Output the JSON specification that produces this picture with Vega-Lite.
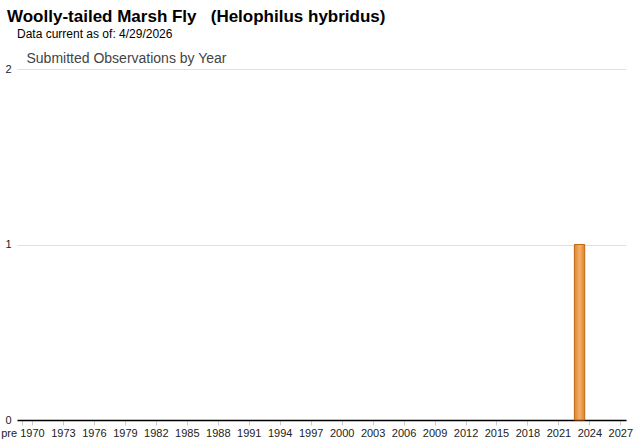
{
  "$schema": "https://vega.github.io/schema/vega-lite/v6.json",
  "width": 609,
  "height": 351,
  "autosize": {"type": "none"},
  "padding": {"left": 17, "top": 69, "right": 14, "bottom": 22},
  "background": "white",
  "title": {
    "text": "Woolly-tailed Marsh Fly\u00a0\u00a0\u00a0(Helophilus hybridus)",
    "subtitle": "\u200b\u00a0\u00a0\u00a0Data current as of: 4/29/2026",
    "anchor": "start",
    "frame": "group",
    "orient": "top",
    "dx": -10,
    "offset": 10,
    "font": "Liberation Sans",
    "fontSize": 17,
    "fontWeight": "bold",
    "color": "#000000",
    "subtitleFont": "Liberation Sans",
    "subtitleFontSize": 12,
    "subtitleColor": "#000000",
    "subtitlePadding": 3
  },
  "data": {"values": [{"year": "2023", "count": 1}]},
  "mark": {
    "type": "bar",
    "stroke": "#c0680e",
    "strokeWidth": 1,
    "fill": {
      "gradient": "linear",
      "x1": 0, "x2": 1, "y1": 0, "y2": 0,
      "stops": [
        {"offset": 0, "color": "#dc842c"},
        {"offset": 0.5, "color": "#f4b06a"},
        {"offset": 1, "color": "#dc842c"}
      ]
    }
  },
  "encoding": {
    "x": {
      "field": "year",
      "type": "ordinal",
      "scale": {
        "domain": ["pre","1970","1971","1972","1973","1974","1975","1976","1977","1978","1979","1980","1981","1982","1983","1984","1985","1986","1987","1988","1989","1990","1991","1992","1993","1994","1995","1996","1997","1998","1999","2000","2001","2002","2003","2004","2005","2006","2007","2008","2009","2010","2011","2012","2013","2014","2015","2016","2017","2018","2019","2020","2021","2022","2023","2024","2025","2026","2027"],
        "paddingInner": 0,
        "paddingOuter": 0
      },
      "axis": {
        "title": null,
        "values": ["pre","1970","1973","1976","1979","1982","1985","1988","1991","1994","1997","2000","2003","2006","2009","2012","2015","2018","2021","2024","2027"],
        "labelAngle": 0,
        "labelFont": "Liberation Sans",
        "labelFontSize": 11,
        "labelColor": "#222222",
        "labelPadding": 2,
        "labelOffset": {"condition": {"test": "datum.value === 'pre'", "value": -13}, "value": 0},
        "tickColor": "#cccccc",
        "tickSize": 5,
        "domainColor": "#000000",
        "domainWidth": 1.5,
        "grid": false
      }
    },
    "y": {
      "field": "count",
      "type": "quantitative",
      "scale": {"domain": [0, 2], "nice": false},
      "axis": {
        "values": [0, 1, 2],
        "format": ".0f",
        "title": "Submitted Observations by Year",
        "titleAngle": 0,
        "titleAlign": "left",
        "titleBaseline": "alphabetic",
        "titleX": 9,
        "titleY": -7,
        "titleFont": "Liberation Sans",
        "titleFontSize": 14,
        "titleFontWeight": "normal",
        "titleColor": "#444444",
        "labelFont": "Liberation Sans",
        "labelFontSize": 11,
        "labelColor": "#222222",
        "labelPadding": 6,
        "domain": false,
        "ticks": false,
        "grid": true,
        "gridColor": "#e0e0e0"
      }
    }
  },
  "config": {"view": {"stroke": null}}
}
